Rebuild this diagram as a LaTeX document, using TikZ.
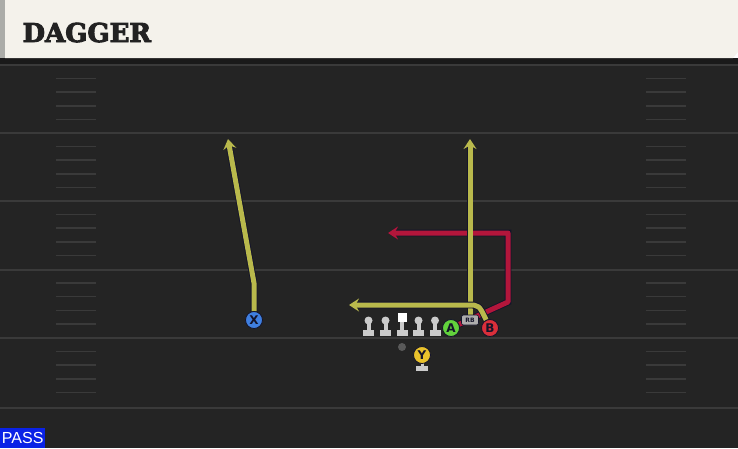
\documentclass[tikz,border=0pt]{standalone}
\usepackage{fontspec}
\setmainfont{DejaVu Sans}
\newfontfamily\titlefont[FakeBold=3.5]{DejaVu Serif}
\newfontfamily\passfont{Liberation Sans}
\usetikzlibrary{arrows.meta,backgrounds}

\definecolor{fieldC}{HTML}{242424}
\definecolor{stripC}{HTML}{1A1A1A}
\definecolor{lineC}{HTML}{3A3A3A}
\definecolor{headC}{HTML}{F4F2EB}
\definecolor{sideC}{HTML}{ABACA8}
\definecolor{titleC}{HTML}{222222}
\definecolor{edgeC}{HTML}{14142A}
\definecolor{yellowR}{HTML}{B9B94C}
\definecolor{redR}{HTML}{B3163B}
\definecolor{blueP}{HTML}{3F7FE0}
\definecolor{greenP}{HTML}{62D23C}
\definecolor{redP}{HTML}{DA2F3A}
\definecolor{yellowP}{HTML}{E9C22C}
\definecolor{olC}{HTML}{CBCBCB}
\definecolor{passC}{HTML}{0A22E6}

\begin{document}
\begin{tikzpicture}[x=1pt, y=-1pt,
	player/.style = {draw=edgeC, line width=0.8pt, circle, minimum size=17pt, inner sep=0pt, text=edgeC, font=\bfseries\fontsize{12}{12}\selectfont},
	route/.style = {line width=5pt, line join=round, preaction={draw=edgeC, line width=6.8pt}, -{Stealth[length=10pt, width=13pt, inset=3.5pt]}},
	yardline/.style = {draw=lineC, line width=2pt},
	hash/.style = {draw=lineC, line width=1.5pt},
	rbbox/.style = {draw=edgeC, line width=0.6pt, fill=olC!85!black, rounded corners=2pt, minimum width=17pt, minimum height=10pt, inner sep=0pt, text=edgeC, font=\bfseries\fontsize{6}{6}\selectfont}]
	\useasboundingbox (0,0) rectangle (738,448);
	% field and header
	\begin{scope}[on background layer]
		\fill[fieldC] (0,58) rectangle (738,448);
		\fill[stripC] (0,58) rectangle (738,64);
		\fill[headC] (5,0) -- (738,0) -- (738,52) -- (733,58) -- (5,58) -- cycle;
		\fill[sideC] (0,0) rectangle (5,58);
		\foreach \y in {65,133,201,269.5,338,408}
			\draw[yardline] (0,\y) -- (738,\y);
		\foreach \y in {65,133,201,269.5,338}
			\foreach \k in {1,...,4} {
				\draw[hash] (56,{\y+\k*13.6}) -- (96,{\y+\k*13.6});
				\draw[hash] (646,{\y+\k*13.6}) -- (686,{\y+\k*13.6});
			}
	\end{scope}
	\node[anchor=base west, text=titleC, font=\titlefont\bfseries\fontsize{26}{26}\selectfont] (title) at (19,42) {DAGGER};
	\node[fill=passC, text=white, anchor=south west, minimum width=45pt, minimum height=20pt, inner sep=0pt, font=\passfont\fontsize{16}{16}\selectfont] (pass) at (0,448) {PASS};
	% line
	\foreach \x in {368.5,385.5,418.5,435} {
		\fill[olC] (\x-5.5,330) rectangle (\x+5.5,336);
		\fill[olC] (\x-2,321) rectangle (\x+2,330);
		\fill[olC] (\x,320.5) circle (4pt);
	}
	\fill[olC] (396.5,330) rectangle (407.5,336);
	\fill[olC] (400,321) rectangle (404,330);
	\fill[white] (397.5,313) rectangle (406.5,322);
	\fill[gray!70!black] (402,347) circle (4pt);
	% Y stand
	\fill[olC] (416,366) rectangle (428,371);
	\fill[olC] (420.5,362) rectangle (423.5,366);
	% players
	\node[player, fill=blueP] (X) at (254,320) {X};
	\node[player, fill=greenP] (A) at (451,328) {A};
	\node[player, fill=redP] (B) at (490,328) {B};
	\node[player, fill=yellowP] (Y) at (422,355) {Y};
	\node[rbbox] (RB) at (470,320) {RB};
	% route points
	\coordinate (xbreak) at (254,283);
	\coordinate (xend) at (228,139);
	\coordinate (rbend) at (470,139);
	\coordinate (bturn) at (468,305);
	\coordinate (bend) at (349,305);
	\coordinate (acorner) at (508,302);
	\coordinate (atop) at (508,233);
	\coordinate (aend) at (388,233);
	% routes
	\begin{scope}[on background layer]
		\draw[route, draw=redR] (A) -- (acorner) -- (atop) -- (aend);
		\draw[route, draw=yellowR] (RB.north) -- (rbend);
		\draw[route, draw=yellowR] (B) .. controls (479,305) .. (bturn) -- (bend);
		\draw[route, draw=yellowR] (X) -- (xbreak) -- (xend);
	\end{scope}
\end{tikzpicture}
\end{document}
